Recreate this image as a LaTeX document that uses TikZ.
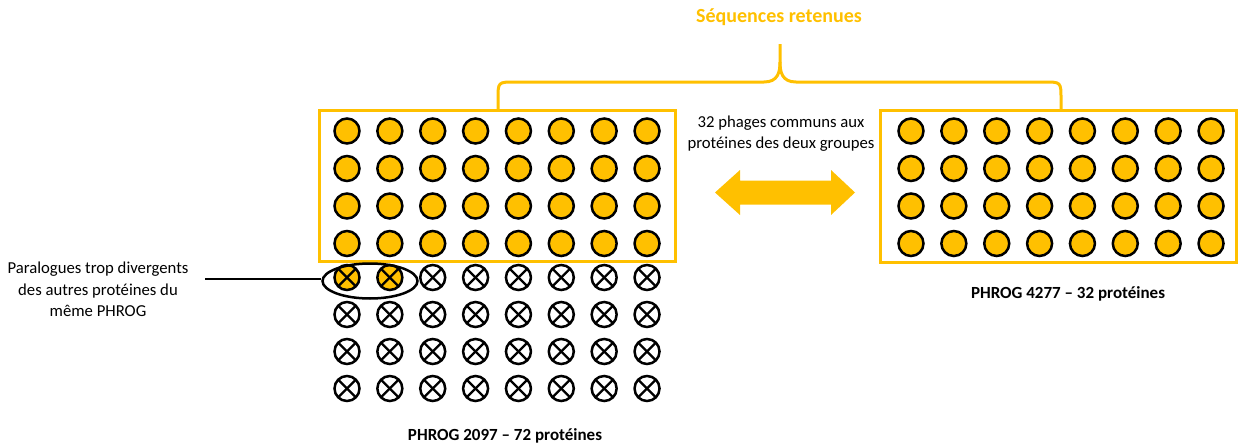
\documentclass[tikz,border=0pt]{standalone}
\usepackage{fontspec}
\setmainfont{Carlito}
\usetikzlibrary{shapes.geometric}
\definecolor{gold}{HTML}{FFC000}
\tikzset{
  x=1pt, y=-1pt,
  dot/.style={circle, draw=black, line width=2.5pt, fill=gold, minimum size=25pt, inner sep=0pt, outer sep=0pt},
  xdot/.style={circle, draw=black, line width=2.5pt, fill=white, minimum size=25pt, inner sep=0pt, outer sep=0pt},
  xdotgold/.style={xdot, fill=gold},
  groupbox/.style={draw=gold, line width=3pt},
  txt/.style={font=\fontsize{16.7}{21.5}\selectfont, align=center, inner sep=0pt},
  boldtxt/.style={font=\fontsize{17}{21}\selectfont\bfseries, inner sep=0pt},
}
\begin{document}
\begin{tikzpicture}
\useasboundingbox (0,0) rectangle (1239,447);
% boxes
\draw[groupbox] (319,110) rectangle (675,261);
\draw[groupbox] (880,110) rectangle (1236,262);
% filled circles in boxes
\foreach \r in {0,...,3}{
  \foreach \c in {0,...,7}{
    \node[dot] (L-\r-\c) at ({347+42.86*\c},{131+37.5*\r}) {};
    \node[dot] (R-\r-\c) at ({911+42.86*\c},{131+37.5*\r}) {};
  }
}
% crossed circles
\foreach \r in {0,...,3}{
  \foreach \c in {0,...,7}{
    \pgfmathtruncatemacro{\isgold}{(\r==0 && \c<2) ? 1 : 0}
    \ifnum\isgold=1
      \node[xdotgold] (X-\r-\c) at ({347+42.86*\c},{277.5+37*\r}) {};
    \else
      \node[xdot] (X-\r-\c) at ({347+42.86*\c},{277.5+37*\r}) {};
    \fi
    \draw[line width=2.3pt] (X-\r-\c.45) -- (X-\r-\c.225);
    \draw[line width=2.3pt] (X-\r-\c.135) -- (X-\r-\c.315);
  }
}
% ellipse around the paralogues
\node[ellipse, draw=black, line width=2.5pt, minimum width=95pt, minimum height=35pt, inner sep=0pt] (ell) at (370,281) {};
\coordinate (lineend) at (205,279);
\draw[line width=2.5pt] (lineend) -- (ell.west |- lineend);
\node[txt] (paral) at (98,289.5) {Paralogues trop divergents\\des autres protéines du\\même PHROG};
% brace
\draw[draw=gold, line width=3pt]
  (498,109) -- (498,99) .. controls (498,82) .. (515,82) -- (764,82)
  .. controls (778,82) and (780,72) .. (780,62) -- (780,44);
\draw[draw=gold, line width=3pt]
  (1061,109) -- (1061,99) .. controls (1061,82) .. (1044,82) -- (796,82)
  .. controls (782,82) and (780,72) .. (780,62);
\node[boldtxt, text=gold, font=\fontsize{20}{24}\selectfont\bfseries] (title) at (779,17) {Séquences retenues};
% double arrow
\fill[gold] (715,192.5) -- (740,170) -- (740,180.7) -- (831,180.7) -- (831,170) -- (855,192.5)
  -- (831,215) -- (831,204.5) -- (740,204.5) -- (740,215) -- cycle;
\node[txt] (common) at (781,133.5) {32 phages communs aux\\protéines des deux groupes};
% labels
\node[boldtxt] (lab1) at (505,436) {PHROG 2097 – 72 protéines};
\node[boldtxt] (lab2) at (1068,294) {PHROG 4277 – 32 protéines};
\end{tikzpicture}
\end{document}
